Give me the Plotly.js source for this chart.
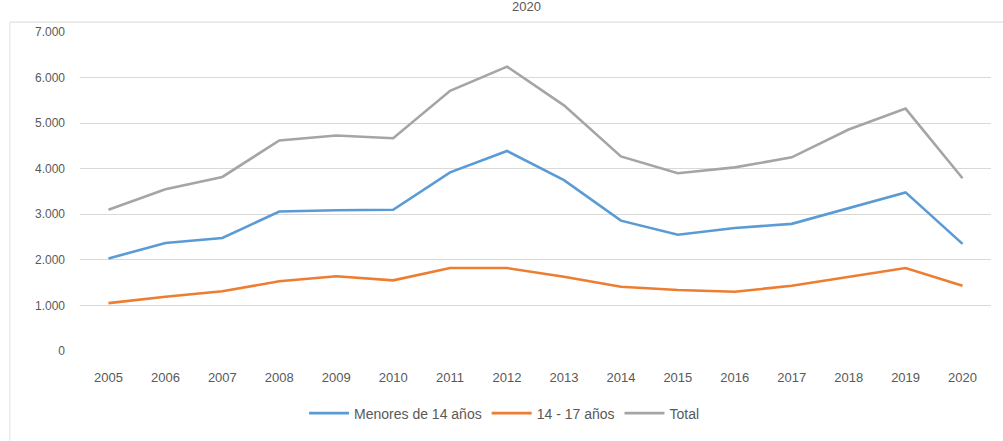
<!DOCTYPE html>
<html>
<head>
<meta charset="utf-8">
<script src="https://cdn.plot.ly/plotly-3.0.1.min.js"></script>
<style>html,body{margin:0;padding:0;background:#fff;}#chart{width:1003px;height:441px;}</style>
</head>
<body>
<div id="chart"></div>
<script>
const years = ['2005','2006','2007','2008','2009','2010','2011','2012','2013','2014','2015','2016','2017','2018','2019','2020'];
const menores14 = [2030, 2370, 2480, 3060, 3090, 3100, 3920, 4390, 3750, 2860, 2550, 2700, 2790, 3130, 3480, 2350];
const de14a17 = [1050, 1190, 1310, 1530, 1640, 1550, 1820, 1820, 1630, 1410, 1340, 1300, 1430, 1630, 1820, 1430];
const total = [3100, 3550, 3820, 4620, 4730, 4670, 5710, 6240, 5390, 4270, 3900, 4030, 4250, 4860, 5320, 3790];
const seriesNames = ['Menores de 14 años', '14 - 17 años', 'Total'];
const yTicks = [0, 1000, 2000, 3000, 4000, 5000, 6000, 7000];
const titleText = '2020';

const colors = ['#5B9BD5', '#ED7D31', '#A5A5A5'];
const series = [menores14, de14a17, total];
const traces = series.map((vals, i) => ({
  x: years, y: vals, type: 'scatter', mode: 'lines', name: seriesNames[i],
  line: {color: colors[i], width: 2.6}
}));

const layout = {
  width: 1003, height: 441,
  margin: {l: 80, r: 12, t: 32, b: 88},
  paper_bgcolor: '#ffffff', plot_bgcolor: '#ffffff',
  separators: ',.',
  showlegend: true,
  font: {family: 'Liberation Sans, sans-serif', color: '#595959', size: 12},
  xaxis: {
    type: 'category', range: [-0.5, 15.5], showgrid: false, zeroline: false,
    showline: false, ticks: '', ticklabelstandoff: 17,
    tickfont: {size: 13, color: '#595959'}
  },
  yaxis: {
    range: [0, 7000], tickvals: yTicks, tickformat: ',d', showgrid: true,
    gridcolor: '#d9d9d9', gridwidth: 1, zeroline: false, showline: false,
    ticks: '', ticklabelstandoff: 14,
    tickfont: {size: 12, color: '#595959'}
  },
  legend: {
    orientation: 'h', x: 0.466, xanchor: 'center', y: -0.196, yanchor: 'middle',
    font: {size: 14, color: '#595959'},
    itemwidth: 40, tracegroupgap: 0
  },
  annotations: [{
    text: titleText, xref: 'paper', yref: 'paper', x: 0.49, y: 1.08, yanchor: 'middle',
    showarrow: false, font: {size: 13, color: '#595959'}
  }],
  shapes: [
    {type: 'line', xref: 'paper', yref: 'paper', x0: -0.077, x1: 1.02, y0: 1.031, y1: 1.031, line: {color: '#d9d9d9', width: 1}},
    {type: 'line', xref: 'paper', yref: 'paper', x0: -0.077, x1: -0.077, y0: 1.031, y1: -0.3, line: {color: '#e3e3e3', width: 1}}
  ]
};

Plotly.newPlot('chart', traces, layout, {displayModeBar: false, staticPlot: true});
</script>
</body>
</html>
